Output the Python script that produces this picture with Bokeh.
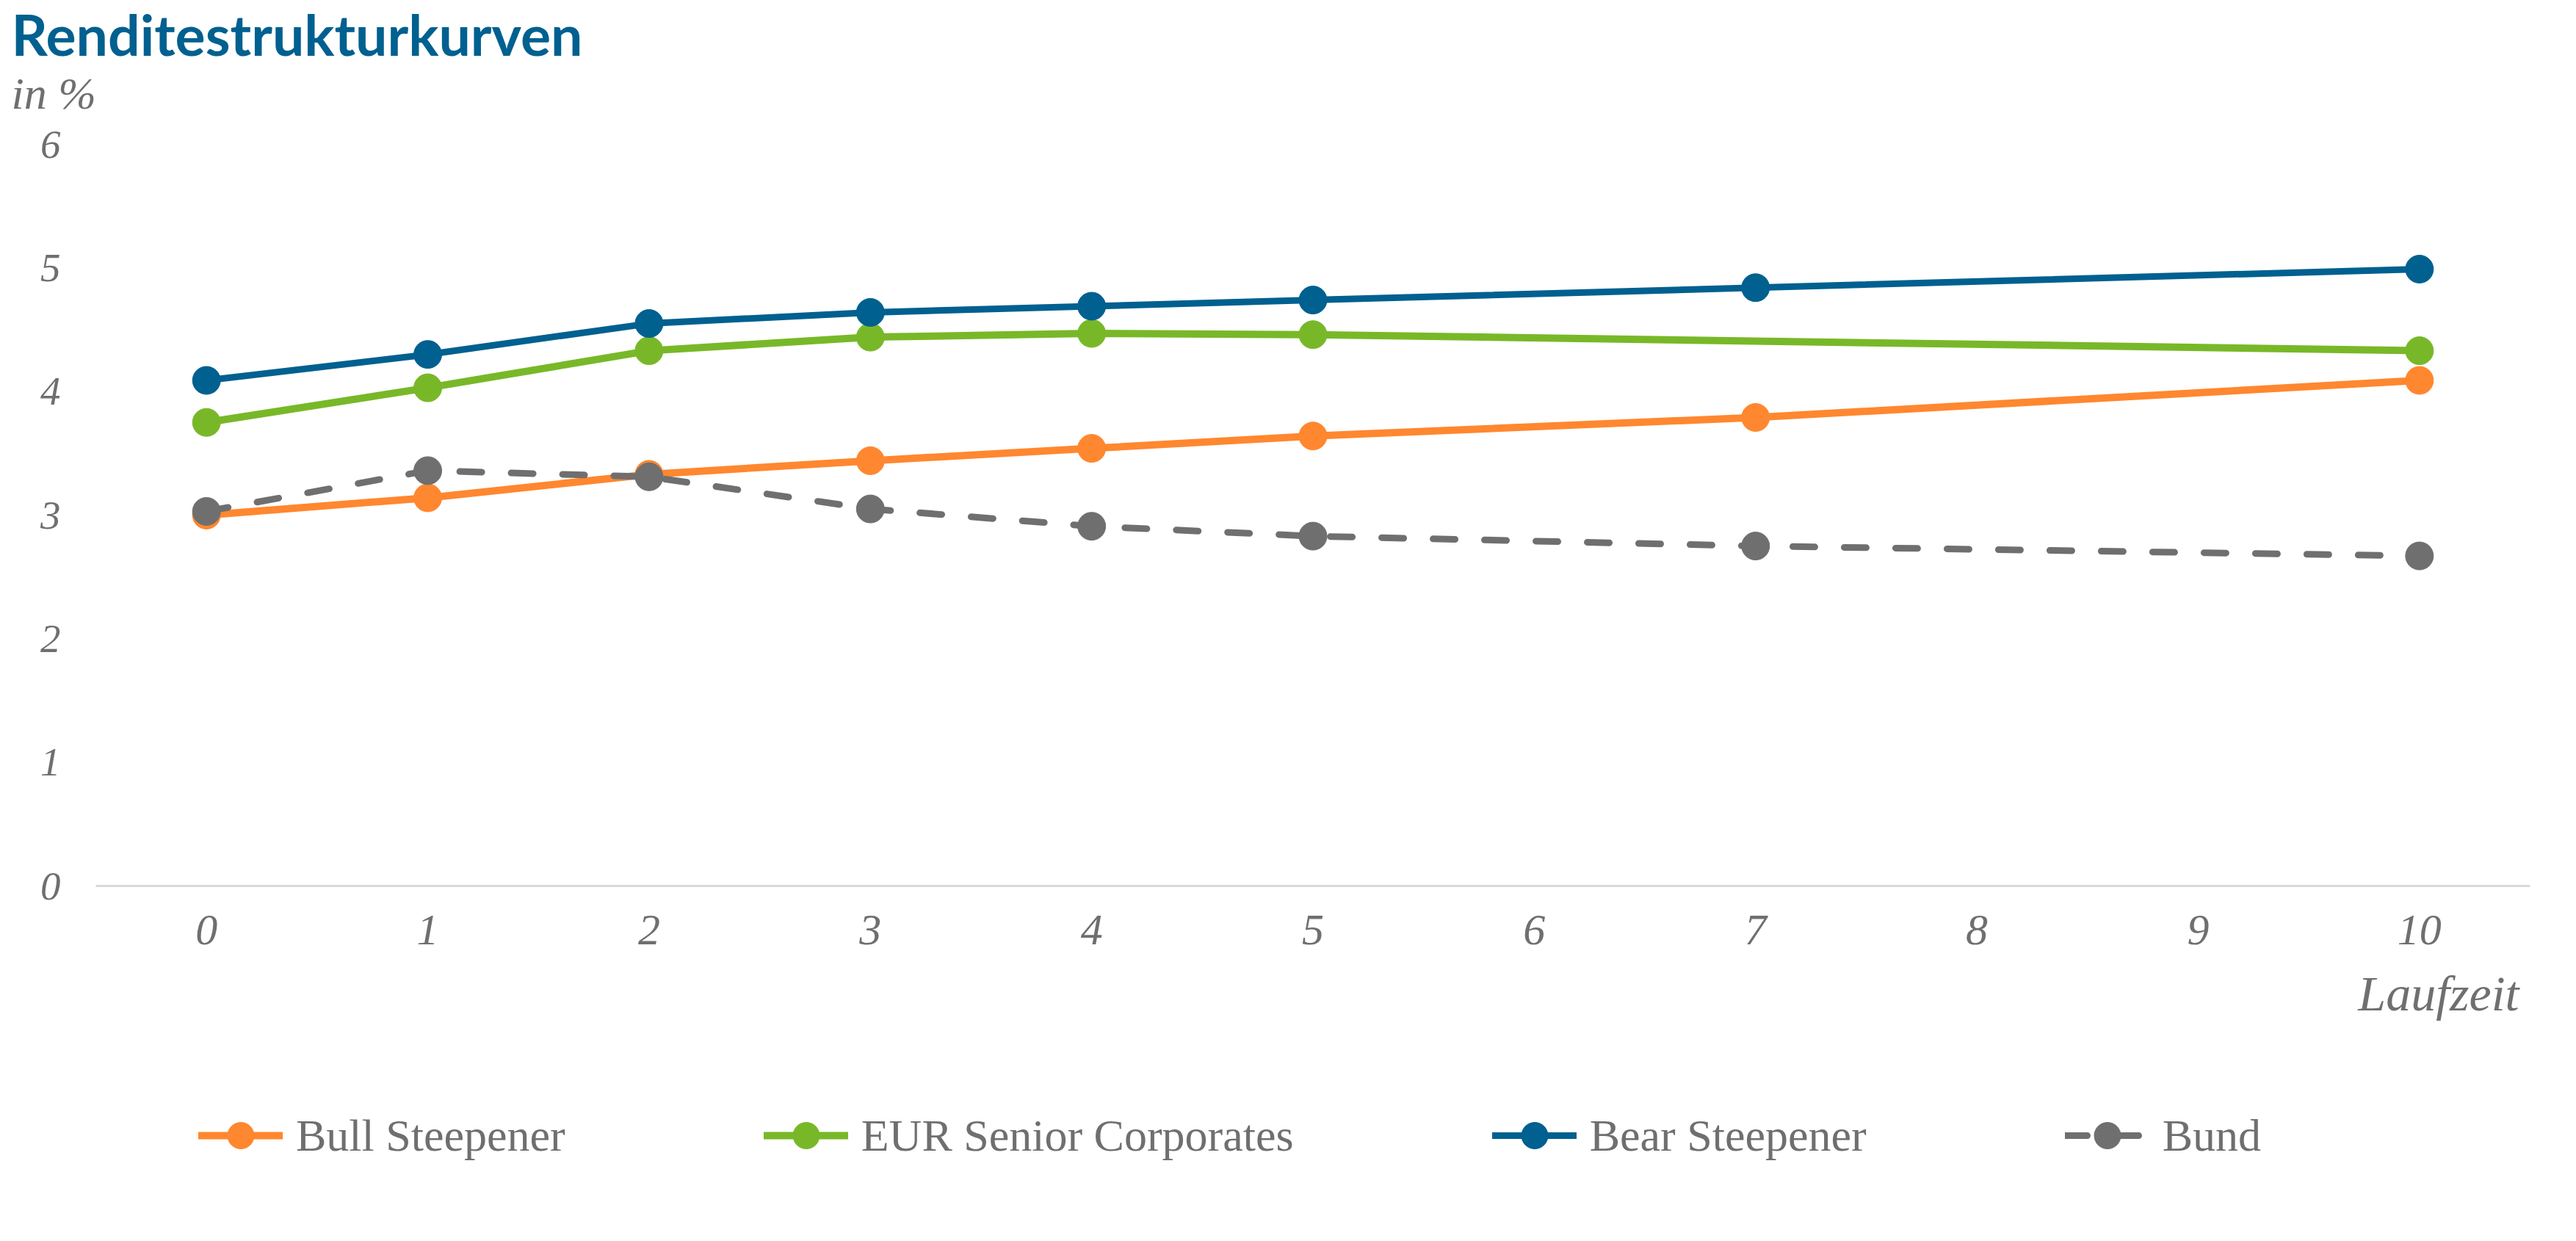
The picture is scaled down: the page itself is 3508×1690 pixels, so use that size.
from bokeh.plotting import figure
from bokeh.layouts import column
from bokeh.models import Legend, LegendItem, FixedTicker, Range1d, Title, Label
from bokeh.embed import file_html
from bokeh.resources import INLINE

# ---- data ----
maturities = [0, 1, 2, 3, 4, 5, 7, 10]
maturities_eur = [0, 1, 2, 3, 4, 5, 10]
bull_steepener = [3.00, 3.14, 3.33, 3.44, 3.54, 3.64, 3.79, 4.09]
eur_senior_corporates = [3.75, 4.03, 4.33, 4.44, 4.47, 4.46, 4.33]
bear_steepener = [4.09, 4.30, 4.55, 4.64, 4.69, 4.74, 4.84, 4.99]
bund = [3.03, 3.36, 3.31, 3.05, 2.91, 2.83, 2.75, 2.67]
x_ticks = [0, 1, 2, 3, 4, 5, 6, 7, 8, 9, 10]
y_ticks = [0, 1, 2, 3, 4, 5, 6]
title_text = "Renditestrukturkurven"
unit_text = "in %"
x_title = "Laufzeit"
series_names = ["Bull Steepener", "EUR Senior Corporates", "Bear Steepener", "Bund"]

ORANGE = "#FF872F"
GREEN = "#78B828"
BLUE = "#00608F"
GRAY = "#6F6F6F"
TXT = "#6F6F6F"
SERIF = "Liberation Serif"

W = 3492
HH = 163   # header strip
H1 = 1257  # chart
H2 = 254   # legend strip

# ---- header strip: title and unit ----
h = figure(width=W, height=HH, output_backend="svg", toolbar_location=None,
           x_range=Range1d(0, W), y_range=Range1d(0, HH),
           x_axis_type=None, y_axis_type=None, min_border=0)
try:
    h.frame_align = False
except Exception:
    pass
h.outline_line_color = None
h.xgrid.visible = False
h.ygrid.visible = False
h.add_layout(Label(x=15, y=HH - 45, text=title_text, text_font="Lato",
                   text_font_style="bold", text_font_size="77px", text_color=BLUE,
                   text_baseline="middle", text_align="left"))
h.add_layout(Label(x=15, y=HH - 126, text=unit_text, text_font=SERIF,
                   text_font_style="italic", text_font_size="62px", text_color=TXT,
                   text_baseline="middle", text_align="left"))

# ---- main chart ----
p = figure(width=W, height=H1, output_backend="svg", toolbar_location=None,
           x_range=Range1d(-0.5, 10.5), y_range=Range1d(0, 6),
           min_border_left=130, min_border_right=47, min_border_top=196 - HH,
           min_border_bottom=214)
p.outline_line_color = None
p.background_fill_color = "white"
p.border_fill_color = "white"
p.xgrid.visible = False
p.ygrid.visible = False

p.xaxis.ticker = FixedTicker(ticks=x_ticks)
p.xaxis.axis_line_color = "#D9D9D9"
p.xaxis.axis_line_width = 3
p.xaxis.major_tick_line_color = None
p.xaxis.minor_tick_line_color = None
p.xaxis.major_label_text_font = SERIF
p.xaxis.major_label_text_font_style = "italic"
p.xaxis.major_label_text_font_size = "60px"
p.xaxis.major_label_text_color = TXT
p.xaxis.major_label_standoff = 34

p.yaxis.ticker = FixedTicker(ticks=y_ticks)
p.yaxis.axis_line_color = None
p.yaxis.major_tick_line_color = None
p.yaxis.minor_tick_line_color = None
p.yaxis.major_label_text_font = SERIF
p.yaxis.major_label_text_font_style = "italic"
p.yaxis.major_label_text_font_size = "55px"
p.yaxis.major_label_text_color = TXT
p.yaxis.major_label_standoff = 42

LW = 9
MS = 38
STYLES = [
    dict(color=ORANGE, width=LW + 1, dash="solid"),
    dict(color=GREEN, width=LW + 1, dash="solid"),
    dict(color=BLUE, width=LW, dash="solid"),
    dict(color=GRAY, width=LW, dash="30 40"),
]
xs = [maturities, maturities_eur, maturities, maturities]
ys = [bull_steepener, eur_senior_corporates, bear_steepener, bund]

for x, y, st in zip(xs, ys, STYLES):
    p.line(x, y, line_color=st["color"], line_width=st["width"], line_dash=st["dash"],
           line_join="round", line_cap="round")
    p.scatter(x, y, size=MS, fill_color=st["color"], line_color=st["color"])

p.add_layout(Title(text=x_title, text_font=SERIF, text_font_style="italic",
                   text_font_size="68px", text_color=TXT, align="right",
                   offset=15, standoff=48), "below")

# ---- legend strip (frame aligned with the chart above) ----
q = figure(width=W, height=H2, output_backend="svg", toolbar_location=None,
           x_range=Range1d(100, 101), y_range=Range1d(100, 101),
           x_axis_type=None, y_axis_type=None, min_border=0)
q.outline_line_color = None
q.xgrid.visible = False
q.ygrid.visible = False
items = []
for name, x, y, st in zip(series_names, xs, ys, STYLES):
    lr = q.line(x, y, line_color=st["color"], line_width=st["width"], line_dash=st["dash"],
                line_cap="round")
    sr = q.scatter(x, y, size=MS, fill_color=st["color"], line_color=st["color"])
    items.append(LegendItem(label=name, renderers=[lr, sr]))

legend = Legend(items=items, orientation="horizontal", location=(140, 83),
                spacing=270, glyph_width=115, glyph_height=90, label_standoff=18,
                label_height=60, padding=0, margin=0,
                border_line_color=None, background_fill_alpha=0,
                label_text_font=SERIF, label_text_font_size="62px",
                label_text_color=TXT)
q.add_layout(legend, "center")

layout = column(h, p, q, spacing=0)
open("out.html", "w").write(file_html(layout, INLINE))
